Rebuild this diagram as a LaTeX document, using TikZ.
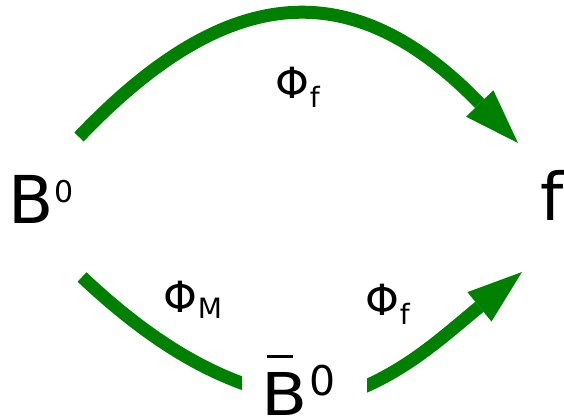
\documentclass[tikz,border=0pt]{standalone}
\usepackage{fontspec}
\setmainfont{DejaVu Sans}
\usetikzlibrary{arrows.meta}
\definecolor{arrgreen}{RGB}{0,128,0}
\newcommand{\phisub}[2]{{\fontsize{43}{43}\selectfont Φ}\hspace{1pt}\raisebox{-#2pt}{\fontsize{28}{28}\selectfont #1}}
\begin{document}
\begin{tikzpicture}[x=1pt,y=-1pt,
  lbl/.style={inner sep=0pt, outer sep=0pt, anchor=base west},
  flow/.style={draw=arrgreen, line width=13pt},
  head/.style={-{Triangle[length=55pt,width=38pt,line width=0pt]}}]
\useasboundingbox (0,0) rectangle (564,418);
% particles
\node[lbl] (B0) at (8.5,223) {{\fontsize{66}{66}\selectfont B}\hspace{1pt}\raisebox{21pt}{\fontsize{30}{30}\selectfont 0}};
\node[lbl] (f) at (540,220) {\fontsize{66}{66}\selectfont f};
\node[lbl] (Bbar) at (261,415) {\makebox[0pt][l]{\hspace{6pt}\raisebox{57pt}{\rule{26pt}{3pt}}}\scalebox{1.14}[1]{\fontsize{59}{59}\selectfont B}\hspace{2pt}\raisebox{20pt}{\fontsize{41}{41}\selectfont 0}};
% labels
\node[lbl] (lt) at (275,98) {\phisub{f}{9}};
\node[lbl] (lm) at (163,312) {\phisub{M}{6}};
\node[lbl] (lb) at (365,315) {\phisub{f}{9}};
% connector ends
\coordinate (t0) at (79,137);
\coordinate (t1) at (518,143);
\coordinate (m0) at (82,277);
\coordinate (m1) at (250,386);
\coordinate (r0) at (359,389);
\coordinate (r1) at (522,272);
% connectors
\draw[flow,head] (t0) .. controls (235,-27) and (360,-20) .. (t1);
\begin{scope}
\clip (0,0) rectangle (242,418);
\draw[flow] (m0) .. controls (130,322) and (185,364) .. (m1);
\end{scope}
\begin{scope}
\clip (367,0) rectangle (564,418);
\draw[flow,head] (r0) .. controls (410,368) and (445,335) .. (r1);
\end{scope}
\end{tikzpicture}
\end{document}
